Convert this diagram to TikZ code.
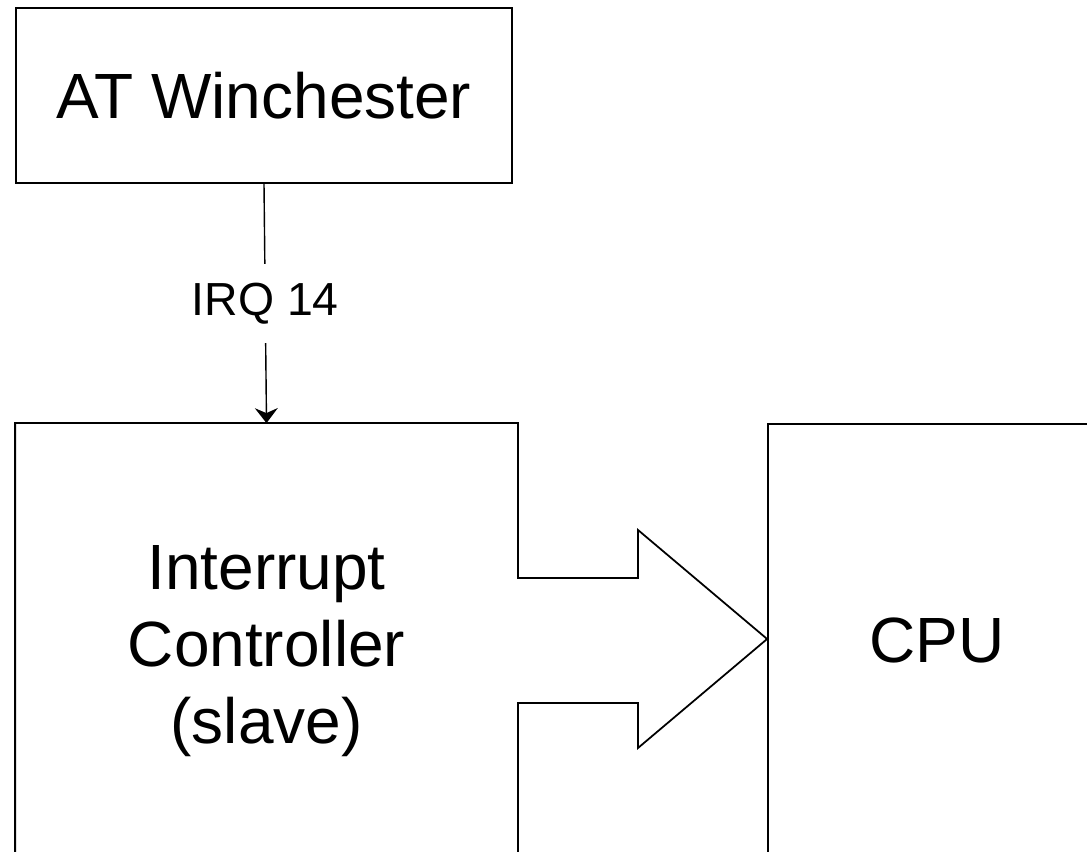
\documentclass[tikz,border=0pt]{standalone}
\usepackage{fontspec}
\setmainfont{Liberation Sans}
\usetikzlibrary{arrows.meta}

\tikzset{
  unit/.style={line width=1pt,align=center,inner sep=0pt,
    font=\fontsize{36.4}{43.7}\selectfont},
  irqlabel/.style={fill=white,inner xsep=2pt,inner ysep=0.38cm,
    font=\fontsize{26.4}{31.6}\selectfont}
}

\begin{document}
\begin{tikzpicture}[x=1cm,y=1cm]
  \useasboundingbox (0,0) rectangle (21.74,17.04);
  \clip (0,0) rectangle (21.74,17.04);
  % disk controller on top
  \node[unit,draw,minimum width=9.92cm,minimum height=3.5cm] (win) at (5.28,15.13){AT Winchester};
  % slave PIC and CPU, both run off the bottom
  \node[unit,minimum width=10.02cm,minimum height=9.08cm] (ctrl) at (5.33,4.02){Interrupt\\Controller\\(slave)};
  \node[unit,draw,minimum width=6.76cm,minimum height=8.64cm] (cpu) at (18.74,4.24){CPU};
  \draw[line width=0.8pt,-{Stealth[length=0.3cm,width=0.46cm,inset=0.1cm]}]
    (win.south) -- node[irqlabel]{IRQ 14} (ctrl.north);
  % fat arrow grows out of the PIC's right side
  \coordinate (shaftlo) at (12.76,2.98);
  \coordinate (shafthi) at (12.76,5.48);
  \coordinate (headlo) at (12.76,2.08);
  \coordinate (headhi) at (12.76,6.44);
  \coordinate (tip) at (cpu.west |- 0,4.26);
  \draw[line width=1pt,line join=miter]
    (ctrl.south west) -- (ctrl.north west) -- (ctrl.north east)
    -- (ctrl.east |- shafthi) -- (shafthi) -- (headhi) -- (tip)
    -- (headlo) -- (shaftlo) -- (ctrl.east |- shaftlo) -- (ctrl.south east);
\end{tikzpicture}
\end{document}
